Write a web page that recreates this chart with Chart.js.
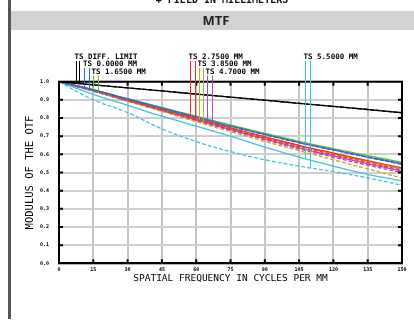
<!DOCTYPE html>
<html>
<head>
<meta charset="utf-8">
<script src="https://cdn.jsdelivr.net/npm/chart.js@4.4.1/dist/chart.umd.min.js"></script>
<style>
html, body { margin: 0; padding: 0; background: #fff; overflow: hidden; }
#grafico { display: block; }
</style>
</head>
<body>
<canvas id="grafico" width="414" height="329"></canvas>
<script>
// Frecuencias espaciales (ciclos/mm) y valores de MTF
const FRECUENCIAS = [0, 15, 30, 45, 60, 75, 90, 105, 120, 135, 150];

const DIFF_T = [1.0, 0.983, 0.966, 0.949, 0.932, 0.915, 0.898, 0.881, 0.864, 0.847, 0.829];
const DIFF_S = [1.0, 0.983, 0.966, 0.949, 0.932, 0.915, 0.898, 0.881, 0.864, 0.847, 0.829];
const F0_T = [1.0, 0.955, 0.905, 0.855, 0.805, 0.755, 0.710, 0.665, 0.625, 0.585, 0.548];
const F0_S = [1.0, 0.955, 0.904, 0.854, 0.804, 0.754, 0.709, 0.664, 0.624, 0.584, 0.546];
const F1_T = [1.0, 0.956, 0.907, 0.858, 0.810, 0.762, 0.716, 0.672, 0.632, 0.593, 0.556];
const F1_S = [1.0, 0.953, 0.903, 0.853, 0.803, 0.755, 0.709, 0.665, 0.624, 0.585, 0.545];
const F2_T = [1.0, 0.952, 0.900, 0.848, 0.797, 0.746, 0.697, 0.650, 0.607, 0.565, 0.525];
const F2_S = [1.0, 0.950, 0.897, 0.844, 0.792, 0.740, 0.690, 0.642, 0.598, 0.555, 0.513];
const F3_T = [1.0, 0.951, 0.899, 0.847, 0.795, 0.744, 0.694, 0.647, 0.603, 0.560, 0.520];
const F3_S = [1.0, 0.948, 0.893, 0.836, 0.780, 0.725, 0.671, 0.620, 0.570, 0.520, 0.470];
const F4_T = [1.0, 0.949, 0.895, 0.841, 0.788, 0.736, 0.685, 0.636, 0.591, 0.548, 0.508];
const F4_S = [1.0, 0.948, 0.893, 0.839, 0.785, 0.732, 0.680, 0.630, 0.584, 0.540, 0.500];
const F5_T = [1.0, 0.930, 0.870, 0.810, 0.755, 0.700, 0.640, 0.585, 0.535, 0.490, 0.455];
const F5_S = [1.0, 0.900, 0.830, 0.740, 0.670, 0.615, 0.570, 0.535, 0.505, 0.470, 0.430];

const ETIQUETAS = ['TS DIFF. LIMIT', 'TS 0.0000 MM', 'TS 1.6500 MM', 'TS 2.7500 MM',
                   'TS 3.8500 MM', 'TS 4.7000 MM', 'TS 5.5000 MM'];
// frecuencia donde cada línea guía toca su curva (T, S)
const GUIAS = [[7.4, 8.7], [11.1, 13.1], [14.9, 17.1], [57.3, 59.5], [61.2, 63.1], [64.7, 66.9], [107.6, 109.8]];

const TICKS_X = [0, 15, 30, 45, 60, 75, 90, 105, 120, 135, 150];
const TICKS_Y = [0, 0.1, 0.2, 0.3, 0.4, 0.5, 0.6, 0.7, 0.8, 0.9, 1.0];

const COLORES = ['#000000', '#3a62d6', '#5cbf2a', '#ff2a2a', '#b8b020', '#b848b8', '#40c4d8'];
const FILA_Y = [57.5, 64.5, 72];
const FILAS = [0, 1, 2, 0, 1, 2, 0];

const SERIES = [[DIFF_T, DIFF_S], [F0_T, F0_S], [F1_T, F1_S], [F2_T, F2_S],
                [F3_T, F3_S], [F4_T, F4_S], [F5_T, F5_S]];

const datasets = [];
SERIES.forEach(([t, s], i) => {
    datasets.push({
        label: ETIQUETAS[i] + ' T',
        data: t.map((v, k) => ({ x: FRECUENCIAS[k], y: v })),
        borderColor: COLORES[i], borderWidth: 1.3, pointRadius: 0, tension: 0.35
    });
    datasets.push({
        label: ETIQUETAS[i] + ' S',
        data: s.map((v, k) => ({ x: FRECUENCIAS[k], y: v })),
        borderColor: COLORES[i], borderWidth: 1.3, borderDash: [4, 2], pointRadius: 0, tension: 0.35
    });
});

function valorEn(serie, f) {
    for (let k = 1; k < FRECUENCIAS.length; k++) {
        if (f <= FRECUENCIAS[k]) {
            const a = FRECUENCIAS[k - 1], b = FRECUENCIAS[k];
            return serie[k - 1] + (serie[k] - serie[k - 1]) * (f - a) / (b - a);
        }
    }
    return serie[serie.length - 1];
}

// cabecera: barra lateral, franja gris con "MTF" y texto superior cortado
const cabecera = {
    id: 'cabecera',
    beforeDraw(chart) {
        const { ctx } = chart;
        ctx.save();
        ctx.fillStyle = '#555';
        ctx.fillRect(8, 0, 3, 319);
        ctx.fillStyle = '#d1d2d4';
        ctx.fillRect(11, 11, 403, 19);
        ctx.fillStyle = '#222';
        ctx.textAlign = 'center';
        ctx.textBaseline = 'middle';
        ctx.font = "bold 13px 'Open Sans', sans-serif";
        ctx.fillText('MTF', 216, 21);
        ctx.fillStyle = '#111';
        ctx.textBaseline = 'alphabetic';
        ctx.font = "bold 10px 'DejaVu Sans Mono', monospace";
        ctx.fillText('+ FIELD IN MILLIMETERS', 222, 2.5);
        ctx.restore();
    }
};

// marco negro y marcas de graduación hacia dentro
const marco = {
    id: 'marco',
    afterDatasetsDraw(chart) {
        const { ctx, chartArea: a, scales: { x, y } } = chart;
        ctx.save();
        ctx.strokeStyle = '#000';
        ctx.lineWidth = 2;
        ctx.strokeRect(a.left, a.top, a.right - a.left, a.bottom - a.top);
        ctx.beginPath();
        TICKS_X.slice(1, -1).forEach(v => {
            const px = x.getPixelForValue(v);
            ctx.moveTo(px, a.top); ctx.lineTo(px, a.top + 4);
            ctx.moveTo(px, a.bottom); ctx.lineTo(px, a.bottom - 4);
        });
        TICKS_Y.slice(1, -1).forEach(v => {
            const py = y.getPixelForValue(v);
            ctx.moveTo(a.left, py); ctx.lineTo(a.left + 4, py);
            ctx.moveTo(a.right, py); ctx.lineTo(a.right - 4, py);
        });
        ctx.stroke();
        ctx.restore();
    }
};

// etiquetas de campo con sus líneas guía
const etiquetas = {
    id: 'etiquetas',
    afterDraw(chart) {
        const { ctx, scales: { x, y } } = chart;
        ctx.save();
        ctx.font = "bold 7.5px 'DejaVu Sans Mono', monospace";
        ctx.textBaseline = 'middle';
        ctx.fillStyle = '#000';
        ETIQUETAS.forEach((txt, i) => {
            const yFila = FILA_Y[FILAS[i]];
            const x0 = x.getPixelForValue(GUIAS[i][0]);
            ctx.fillText(txt, x0 - 1.5, yFila);
            ctx.strokeStyle = COLORES[i];
            ctx.lineWidth = 1;
            GUIAS[i].forEach((f, j) => {
                const px = Math.round(x.getPixelForValue(f)) + 0.5;
                const py = y.getPixelForValue(valorEn(SERIES[i][j], f));
                ctx.beginPath();
                ctx.moveTo(px, yFila + 3.5);
                ctx.lineTo(px, py);
                ctx.stroke();
            });
        });
        ctx.restore();
    }
};

const fuenteTick = { family: "'DejaVu Sans Mono', monospace", size: 5, weight: 'bold' };

new Chart(document.getElementById('grafico'), {
    type: 'line',
    data: { datasets },
    options: {
        responsive: false,
        animation: false,
        layout: { padding: { top: 81.7, right: 12, left: 0, bottom: 0 } },
        plugins: { legend: { display: false }, tooltip: { enabled: false } },
        scales: {
            x: {
                type: 'linear', min: 0, max: 150,
                afterFit: (s) => { s.height = 65.7; },
                afterBuildTicks: (s) => { s.ticks = TICKS_X.map(v => ({ value: v })); },
                grid: { color: '#c4c4c4', lineWidth: 2, drawTicks: false },
                border: { color: '#000', width: 2 },
                ticks: { color: '#000', font: fuenteTick, padding: 3, maxRotation: 0,
                         callback: (v) => String(v) },
                title: { display: true, text: 'SPATIAL FREQUENCY IN CYCLES PER MM', color: '#000',
                         font: { family: "'DejaVu Sans Mono', monospace", size: 9.5 },
                         padding: { top: 0, bottom: 45 } }
            },
            y: {
                type: 'linear', min: 0, max: 1,
                afterFit: (s) => { s.width = 59; },
                afterBuildTicks: (s) => { s.ticks = TICKS_Y.map(v => ({ value: v })); },
                grid: { color: '#cfcfcf', lineWidth: 2, drawTicks: false },
                border: { color: '#000', width: 2 },
                ticks: { color: '#000', font: fuenteTick, padding: 10,
                         callback: (v) => Number(v).toFixed(1) },
                title: { display: true, text: 'MODULUS OF THE OTF', color: '#000',
                         font: { family: "'DejaVu Sans Mono', monospace", size: 10.5 },
                         padding: { top: 24, bottom: 0 } }
            }
        }
    },
    plugins: [cabecera, marco, etiquetas]
});
</script>
</body>
</html>
